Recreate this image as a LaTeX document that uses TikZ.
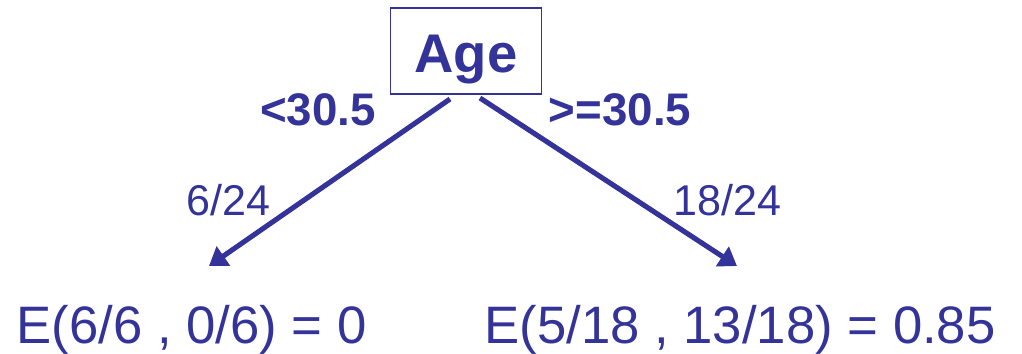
\documentclass[tikz,border=0pt]{standalone}
\usepackage{fontspec}
\setmainfont{Liberation Sans}
\usepackage{tikz}
\usetikzlibrary{arrows.meta,positioning}
\definecolor{treeblue}{RGB}{51,51,153}
\tikzset{
         attrbox/.style={draw=treeblue,line width=1pt,inner sep=0pt,text=treeblue,
                         text width=86pt,text height=36.3pt,text depth=12.5pt,align=center,
                         font=\fontsize{31}{36}\selectfont\bfseries},
         branch/.style={treeblue,line width=2.9pt,-{Triangle[length=10pt,width=13pt]}},
         cutlabel/.style={text=treeblue,inner sep=0pt,anchor=base,font=\fontsize{26}{30}\selectfont\bfseries},
         fraclabel/.style={text=treeblue,inner sep=0pt,anchor=base,font=\fontsize{24.5}{29}\selectfont},
         leaf/.style={text=treeblue,inner sep=0pt,anchor=base,font=\fontsize{30}{36}\selectfont}
        }

\begin{document}
\begin{tikzpicture}[x=0.02cm,y=-0.02cm]
\useasboundingbox (0,0) rectangle (1022,353);

%root test
\node[attrbox,anchor=base] (age) at (466,72) {Age};
%arrow ends
\coordinate (lstart) at (450,99);
\coordinate (lend) at (209,266);
\coordinate (rstart) at (480,98);
\coordinate (rend) at (737,266);
\draw[branch] (lstart)--(lend);
\draw[branch] (rstart)--(rend);
%split values
\node[cutlabel] (lcut) at (318,125) {<30.5};
\node[cutlabel] (rcut) at (620,125) {>=30.5};
%shares
\node[fraclabel] (lshare) at (228.5,215) {6/24};
\node[fraclabel] (rshare) at (727.5,215) {18/24};
%entropies
\node[leaf] (lleaf) at (191.5,343) {E(6/6 , 0/6) = 0};
\node[leaf] (rleaf) at (740,343) {E(5/18 , 13/18) = 0.85};

\end{tikzpicture}
\end{document}
